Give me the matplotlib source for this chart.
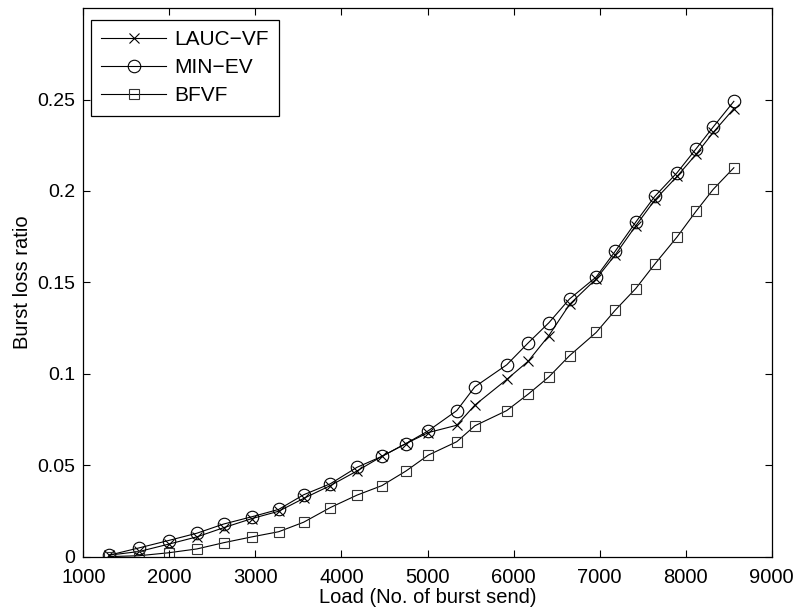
import matplotlib
matplotlib.use("Agg")
import matplotlib.pyplot as plt

plt.rcParams['font.family'] = ['Liberation Sans', 'DejaVu Sans']

# load values (no. of bursts sent)
load = [1300, 1650, 1990, 2320, 2630, 2960, 3270, 3560, 3870, 4180, 4470, 4750, 5010, 5340,
        5550, 5920, 6170, 6410, 6650, 6960, 7180, 7420, 7640, 7900, 8120, 8320, 8560]

lauc_vf = [0.001, 0.003, 0.007, 0.011, 0.016, 0.021, 0.025, 0.032, 0.039, 0.047, 0.055, 0.062,
           0.068, 0.072, 0.083, 0.097, 0.107, 0.121, 0.138, 0.152, 0.165, 0.181, 0.195, 0.208,
           0.220, 0.232, 0.245]

min_ev = [0.001, 0.005, 0.009, 0.013, 0.018, 0.022, 0.026, 0.034, 0.040, 0.049, 0.055, 0.062,
          0.069, 0.080, 0.093, 0.105, 0.117, 0.128, 0.141, 0.153, 0.167, 0.183, 0.197, 0.210,
          0.223, 0.235, 0.249]

bfvf = [0.0002, 0.0007, 0.0023, 0.0044, 0.0078, 0.011, 0.0138, 0.019, 0.027, 0.0338, 0.039,
        0.047, 0.0557, 0.063, 0.0717, 0.080, 0.089, 0.0984, 0.110, 0.1227, 0.1348, 0.1467,
        0.160, 0.1749, 0.1889, 0.2009, 0.2127]

x_ticks = [1000, 2000, 3000, 4000, 5000, 6000, 7000, 8000, 9000]
y_ticks = [0, 0.05, 0.1, 0.15, 0.2, 0.25]
y_tick_labels = ['0', '0.05', '0.1', '0.15', '0.2', '0.25']

fig = plt.figure(figsize=(7.96, 6.11), dpi=100)
ax = fig.add_axes([0.1047, 0.0884, 0.8648, 0.8985])

ax.plot(load, lauc_vf, color='black', lw=0.8, marker='x', ms=7, mew=0.8, label='LAUC\u2212VF')
ax.plot(load, min_ev, color='black', lw=0.8, marker='o', ms=9, mew=0.8, mfc='none', label='MIN\u2212EV')
ax.plot(load, bfvf, color='black', lw=0.8, marker='s', ms=7, mew=0.8, mfc='none', mec='#333333', label='BFVF')

ax.set_xlim(1000, 9000)
ax.set_ylim(0, 0.3)
ax.set_xticks(x_ticks)
ax.set_yticks(y_ticks)
ax.set_yticklabels(y_tick_labels)
ax.tick_params(direction='in', length=5, width=0.8, top=True, right=True)
ax.tick_params(axis='x', labelsize=14.5, pad=8)
ax.tick_params(axis='y', labelsize=14, pad=6)
for s in ax.spines.values():
    s.set_linewidth(0.9)

ax.set_xlabel('Load (No. of burst send)', fontsize=14.5, labelpad=1)
ax.set_ylabel('Burst loss ratio', fontsize=14.5, labelpad=3.5)

leg = ax.legend(loc='upper left', bbox_to_anchor=(0.0112, 0.978), borderaxespad=0,
                fancybox=False, edgecolor='black', framealpha=1, fontsize=15,
                handlelength=3.1, handletextpad=0.38, labelspacing=0.43, borderpad=0.5)
leg.get_frame().set_linewidth(0.9)

fig.savefig('out.png', dpi=100)
